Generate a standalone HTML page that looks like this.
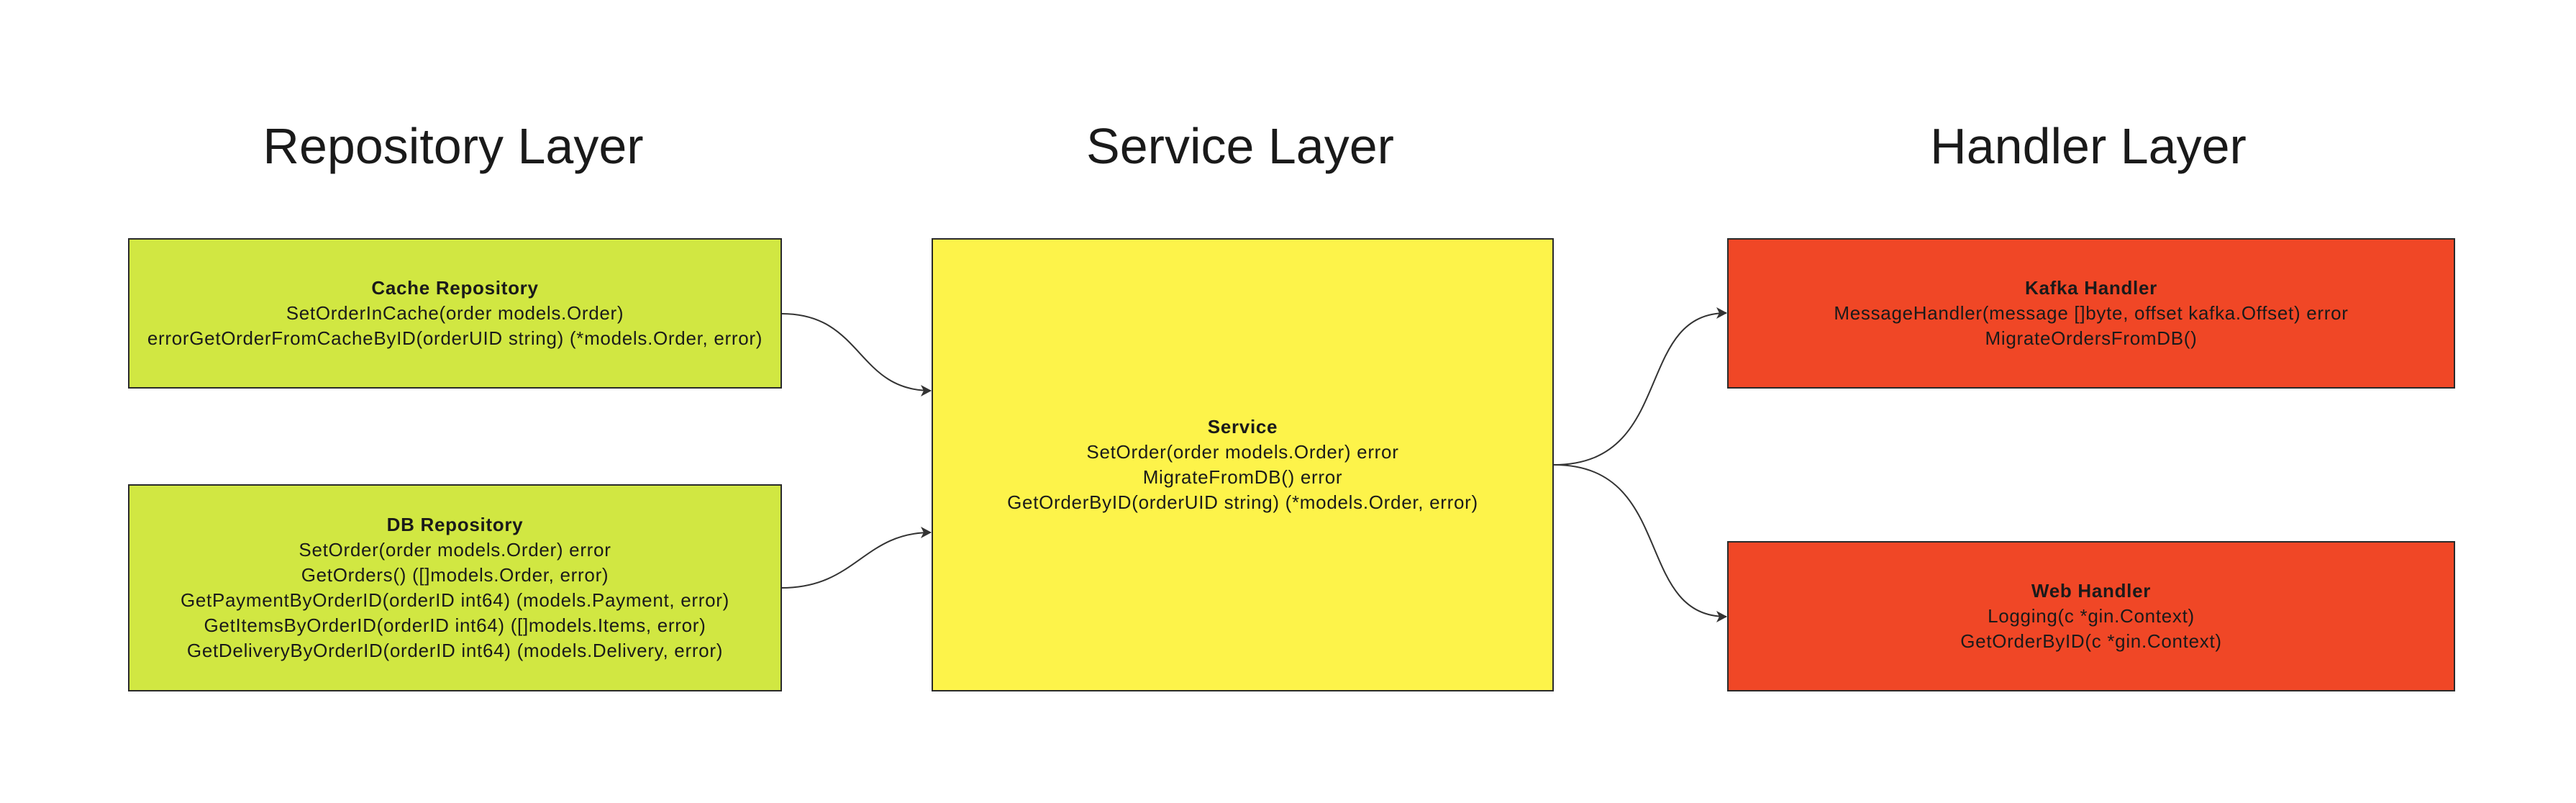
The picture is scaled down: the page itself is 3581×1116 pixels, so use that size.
<!DOCTYPE html>
<html><head><meta charset="utf-8"><style>
body{margin:0;width:3581px;height:1116px;background:#fff;position:relative;overflow:hidden;font-family:"Liberation Sans",sans-serif;color:#1a1a1a}
.h{position:absolute;font-size:70px;top:163px;transform:translateX(-50%);white-space:nowrap;line-height:80px}
.b{position:absolute;box-sizing:border-box;border:2px solid #2a2a2a;display:flex;flex-direction:column;justify-content:center;align-items:center;font-size:26px;letter-spacing:0.7px;line-height:35px;text-align:center;white-space:nowrap}
.b b{font-weight:bold}
.g{background:#d1e742}.y{background:#fdf34a}.r{background:#f04726}
</style></head><body>
<div class="h" style="left:630px">Repository Layer</div>
<div class="h" style="left:1724px">Service Layer</div>
<div class="h" style="left:2903px">Handler Layer</div>

<div class="b g" style="left:178px;top:331px;width:909px;height:209px"><b>Cache Repository</b><div>SetOrderInCache(order models.Order)</div><div>errorGetOrderFromCacheByID(orderUID string) (*models.Order, error)</div></div>
<div class="b g" style="left:178px;top:673px;width:909px;height:288px"><b>DB Repository</b><div>SetOrder(order models.Order) error</div><div>GetOrders() ([]models.Order, error)</div><div>GetPaymentByOrderID(orderID int64) (models.Payment, error)</div><div>GetItemsByOrderID(orderID int64) ([]models.Items, error)</div><div>GetDeliveryByOrderID(orderID int64) (models.Delivery, error)</div></div>
<div class="b y" style="left:1295px;top:331px;width:865px;height:630px"><b>Service</b><div>SetOrder(order models.Order) error</div><div>MigrateFromDB() error</div><div>GetOrderByID(orderUID string) (*models.Order, error)</div></div>
<div class="b r" style="left:2401px;top:331px;width:1012px;height:209px"><b>Kafka Handler</b><div>MessageHandler(message []byte, offset kafka.Offset) error</div><div>MigrateOrdersFromDB()</div></div>
<div class="b r" style="left:2401px;top:752px;width:1012px;height:209px"><b>Web Handler</b><div>Logging(c *gin.Context)</div><div>GetOrderByID(c *gin.Context)</div></div>

<svg width="3581" height="1116" style="position:absolute;left:0;top:0">
<defs><marker id="a" markerWidth="16" markerHeight="16" refX="14" refY="8" orient="auto" markerUnits="userSpaceOnUse"><path d="M0,0 L15,8 L0,16 L4,8 Z" fill="#333"/></marker></defs>
<g fill="none" stroke="#333" stroke-width="2" marker-end="url(#a)">
<path d="M1087,436 C1200,436 1190,543 1294,543"/>
<path d="M1087,817 C1190,817 1200,740 1294,740"/>
<path d="M2160,646 C2330,646 2270,435 2400,435"/>
<path d="M2160,646 C2330,646 2270,857 2400,857"/>
</g></svg>
</body></html>
